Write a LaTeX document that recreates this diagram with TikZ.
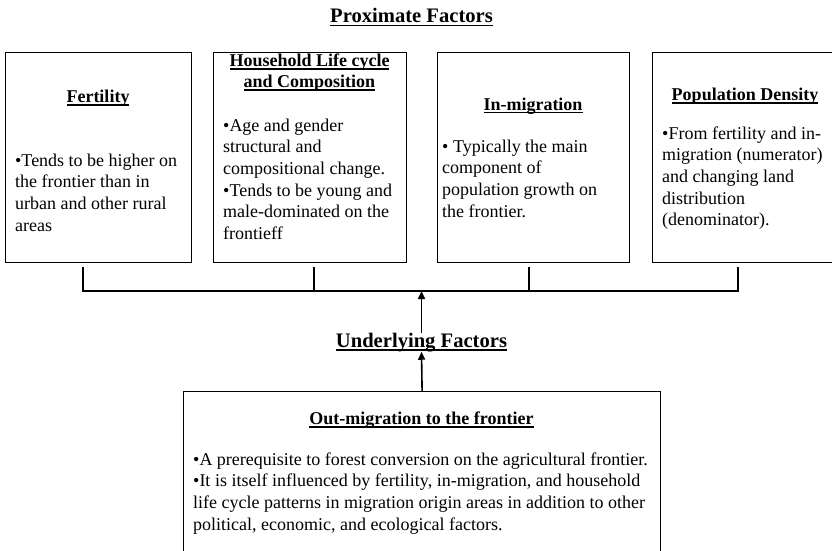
\documentclass[tikz,border=0pt]{standalone}
\usepackage{fontspec}
\setmainfont{Liberation Serif}
\usetikzlibrary{arrows.meta}
\newcommand\hdul[1]{\setbox0=\hbox{#1}\leavevmode\rlap{\copy0}\rule[-3.5pt]{\wd0}{1.8pt}}
\begin{document}
\begin{tikzpicture}[x=1pt,y=-1pt,
  factorbox/.style={draw, line width=1.2pt, inner sep=0pt, anchor=north west},
  bodytext/.style={inner sep=0pt, anchor=north west, align=left, font=\fontsize{18}{21.7}\selectfont},
  headtext/.style={inner sep=0pt, anchor=base, font=\fontsize{18}{21.7}\selectfont\bfseries},
  headtwo/.style={inner sep=0pt, anchor=north, align=center, font=\fontsize{18}{21}\selectfont\bfseries},
  bigtitle/.style={inner sep=0pt, anchor=base, font=\fontsize{20.6}{24}\selectfont\bfseries},
  bracketline/.style={line width=1.2pt},
  uparrow/.style={line width=1.6pt, -{Triangle[length=8pt,width=7pt]}}]
\useasboundingbox (0,0) rectangle (832,551);
\clip (0,0) rectangle (832,551);

% title
\node[bigtitle] (pf) at (411.5,23) {\hdul{Proximate Factors}};

% boxes
\node[factorbox, minimum width=186pt, minimum height=210pt] (b1) at (5,52) {};
\node[factorbox, minimum width=193pt, minimum height=210pt] (b2) at (213,52) {};
\node[factorbox, minimum width=192pt, minimum height=210pt] (b3) at (437,52) {};
\node[factorbox, minimum width=186pt, minimum height=210pt] (b4) at (652,52) {};
\node[factorbox, minimum width=477pt, minimum height=175pt] (b5) at (183,391) {};

% box texts
\node[headtext] (h1) at (98,102) {\hdul{Fertility}};
\node[bodytext] (t1) at (15,150.8) {\strut•Tends to be higher on\\\strut the frontier than in\\\strut urban and other rural\\\strut areas};

\node[headtwo] (h2) at (309.5,51.8) {\strut\hdul{Household Life cycle}\\\strut\hdul{and Composition}};
\node[bodytext] (t2) at (223,115.8) {\strut•Age and gender\\\strut structural and\\\strut compositional change.\\\strut•Tends to be young and\\\strut male-dominated on the\\\strut frontieff};

\node[headtext] (h3) at (533,110) {\hdul{In-migration}};
\node[bodytext] (t3) at (442,136.8) {\strut• Typically the main\\\strut component of\\\strut population growth on\\\strut the frontier.};

\node[headtext] (h4) at (745,100) {\hdul{Population Density}};
\node[bodytext] (t4) at (662,123.8) {\strut•From fertility and in-\\\strut migration (numerator)\\\strut and changing land\\\strut distribution\\\strut (denominator).};

\node[headtext] (h5) at (421.5,424) {\hdul{Out-migration to the frontier}};
\node[bodytext] (t5) at (193,449.8) {\strut•A prerequisite to forest conversion on the agricultural frontier.\\\strut•It is itself influenced by fertility, in-migration, and household\\\strut life cycle patterns in migration origin areas in addition to other\\\strut political, economic, and ecological factors.};

% bracket
\coordinate (k1) at (83,267);
\coordinate (k2) at (314,267);
\coordinate (k3) at (529,267);
\coordinate (k4) at (738,267);
\coordinate (hb) at (421.5,291);
\draw[bracketline] (k1) -- (k1 |- hb) -- (k4 |- hb) -- (k4);
\draw[bracketline] (k2) -- (k2 |- hb);
\draw[bracketline] (k3) -- (k3 |- hb);

% underlying factors
\node[bigtitle] (uf) at (421.5,347) {\hdul{Underlying Factors}};
\draw[uparrow] (uf.north) -- (hb);
\draw[uparrow] (b5.north) -- (uf.south);
\end{tikzpicture}
\end{document}
